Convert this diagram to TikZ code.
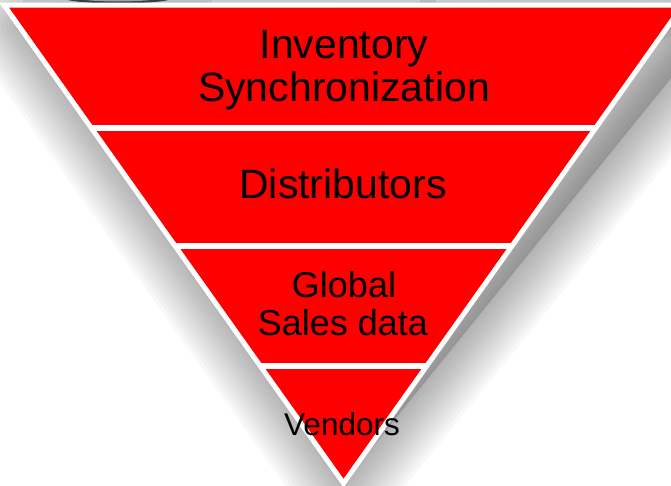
\documentclass[tikz,border=0pt]{standalone}
\usepackage{fontspec}
\setmainfont{Liberation Sans}
\definecolor{tri}{RGB}{255,0,0}
\tikzset{
  lbl/.style={anchor=base, text=black, inner sep=0pt},
  big/.style={lbl, font=\fontsize{41}{43}\selectfont},
  mid/.style={lbl, font=\fontsize{36}{38}\selectfont},
  small/.style={lbl, font=\fontsize{31.5}{33}\selectfont},
  sep/.style={white, line width=6pt},
}
\begin{document}
\begin{tikzpicture}[x=1pt,y=-1pt]
\useasboundingbox (0,0) rectangle (671,485);
\clip (0,0) rectangle (671,485);
% remnant of a shape cut off at the top
\fill[gray!12] (23,0) rectangle (212,5);
\fill[gray!12] (420,0) rectangle (436,3);
\begin{scope}
  \clip (0,0) rectangle (671,3.5);
  \fill[black!70] (118,-3) ellipse (57 and 6.5);
  \fill[gray!45] (118,-4.5) ellipse (50 and 6);
\end{scope}
% soft shadow
\coordinate (sL) at (20,25);
\coordinate (sR) at (722,15);
\coordinate (sA) at (344,482);
\fill[black, opacity=0.16] (sL) -- (sR) -- (sA) -- cycle;
\foreach \w in {100,92,...,4} {
  \draw[black, opacity=0.027, line width=\w pt, line join=round] (sL) -- (sR) -- (sA) -- cycle;
}
% triangle
\coordinate (tL) at (4,5);
\coordinate (tR) at (683,5);
\coordinate (tA) at (343.5,483.2);
\filldraw[fill=tri, draw=white, line width=5pt] (tL) -- (tR) -- (tA) -- cycle;
\begin{scope}
  \clip (tL) -- (tR) -- (tA) -- cycle;
  \coordinate (s1a) at (0,127.5); \coordinate (s1b) at (671,127.5);
  \coordinate (s2a) at (0,245.5); \coordinate (s2b) at (671,245.5);
  \coordinate (s3a) at (0,365.5); \coordinate (s3b) at (671,365.5);
  \draw[sep] (s1a) -- (s1b);
  \draw[sep] (s2a) -- (s2b);
  \draw[sep] (s3a) -- (s3b);
\end{scope}
% labels
\node[big] (inv) at (344,58) {Inventory};
\node[big] (syn) at (344,101) {Synchronization};
\node[big] (dis) at (343,198) {Distributors};
\node[mid] (glo) at (344,297) {Global};
\node[mid] (sal) at (343,335) {Sales data};
\node[small] (ven) at (342,435) {Vendors};
\end{tikzpicture}
\end{document}
